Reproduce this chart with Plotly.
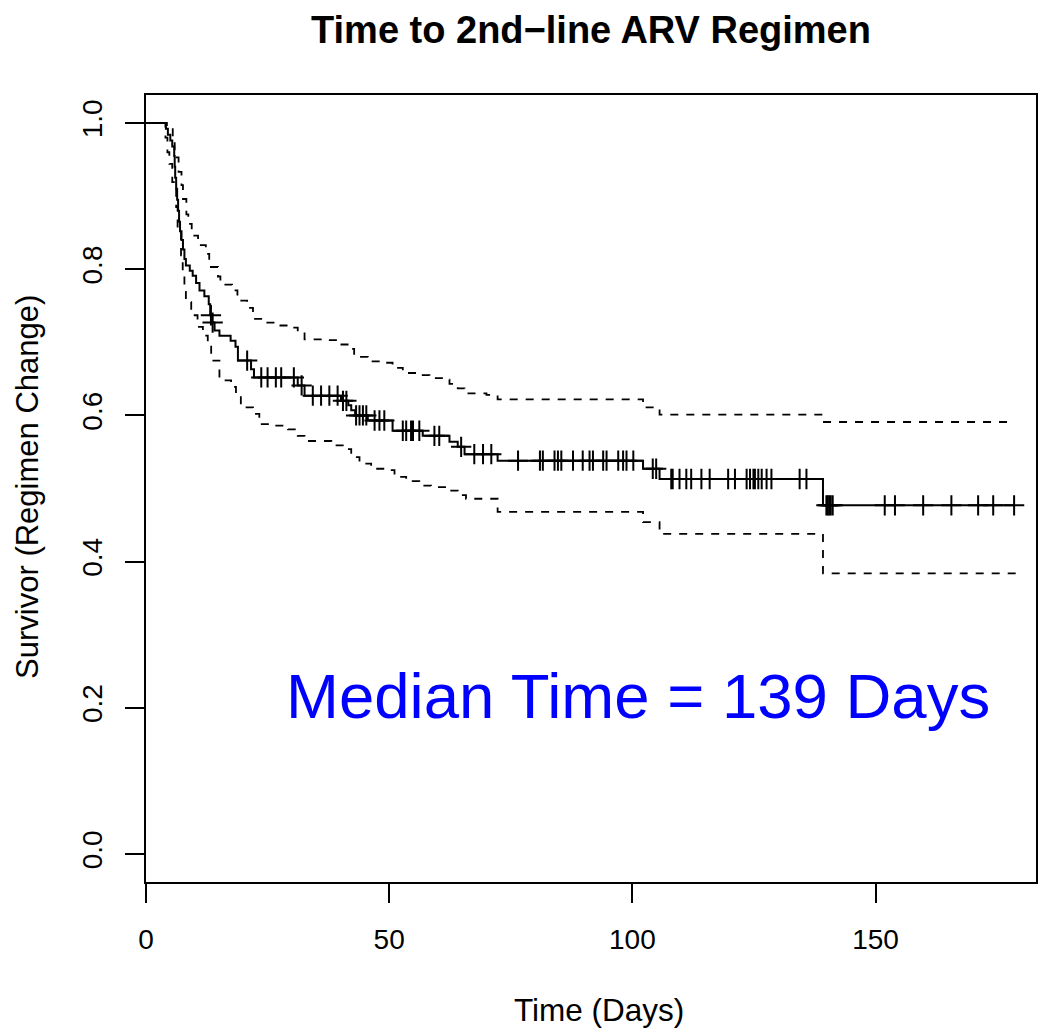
import numpy as np
import plotly.graph_objects as go

# Kaplan-Meier estimate (step points: time at which survival changes to value)
km_time = [0, 4.1, 4.5, 5.0, 5.4, 5.8, 5.9, 6.0, 6.2, 6.4, 6.6, 6.8, 7.0, 7.3, 7.6, 7.9,
           8.2, 9.0, 9.6, 10.3, 11.0, 12.0, 12.9, 13.2, 13.6, 14.1, 15.1, 17.4, 18.4, 18.9,
           21.6, 22.2, 31.2, 32.6, 40.1, 41.6, 42.2, 43.0, 45.6, 50.7, 56.9, 62.4, 64.1,
           65.5, 72.3, 102.2, 105.6, 139.2, 178.5]
km_surv = [1.0, 0.992, 0.984, 0.976, 0.968, 0.955, 0.94, 0.925, 0.91, 0.895, 0.88, 0.865,
           0.852, 0.84, 0.827, 0.814, 0.805, 0.798, 0.791, 0.781, 0.771, 0.763, 0.752, 0.737,
           0.727, 0.716, 0.709, 0.702, 0.694, 0.675, 0.663, 0.652, 0.641, 0.627, 0.620, 0.614,
           0.607, 0.600, 0.593, 0.579, 0.572, 0.564, 0.557, 0.547, 0.538, 0.527, 0.513, 0.477,
           0.477]

# Censoring times
censor_time = [13.35, 13.7, 20.8, 23.7, 25.0, 26.7, 27.8, 30.4, 32.0, 34.3, 36.0, 37.7, 39.4,
               40.5, 41.2, 43.2, 43.9, 44.6, 45.3, 47.0, 48.0, 49.0, 52.8, 53.5, 54.5, 54.9,
               56.2, 59.3, 60.3, 64.8, 67.5, 69.3, 71.0, 76.5, 81.0, 81.6, 84.0, 84.7, 85.4,
               87.8, 89.8, 91.2, 91.9, 94.0, 94.7, 97.1, 98.1, 98.8, 100.2, 104.2, 104.9,
               108.0, 108.3, 109.7, 111.1, 112.1, 114.2, 115.9, 119.7, 121.1, 123.5, 124.2,
               124.9, 125.2, 125.9, 126.6, 127.6, 128.6, 134.4, 135.8, 139.9, 140.2, 140.5,
               140.8, 141.2, 151.9, 154.0, 159.8, 165.6, 171.1, 174.2, 178.5]

# Upper 95% confidence limit
upper_time = [0, 4.3, 5.5, 5.9, 6.7, 7.3, 7.6, 8.3, 8.7, 9.4, 10.7, 12.3, 13.0, 14.8, 15.3,
              17.7, 18.8, 20.8, 22.0, 24.0, 27.0, 29.5, 31.2, 32.6, 36.3, 39.5, 41.8, 42.8,
              45.6, 48.5, 50.7, 52.8, 55.9, 58.3, 61.8, 62.4, 64.1, 65.5, 70.0, 72.3, 102.2,
              105.6, 139.2, 178.0]
upper_surv = [1.0, 0.993, 0.975, 0.953, 0.933, 0.915, 0.896, 0.875, 0.862, 0.846, 0.833,
              0.821, 0.803, 0.790, 0.779, 0.771, 0.757, 0.747, 0.732, 0.727, 0.723, 0.720,
              0.715, 0.704, 0.703, 0.697, 0.691, 0.680, 0.674, 0.672, 0.665, 0.658, 0.655,
              0.651, 0.649, 0.643, 0.637, 0.630, 0.628, 0.622, 0.611, 0.601, 0.591, 0.591]

# Lower 95% confidence limit
lower_time = [0, 4.0, 4.4, 4.8, 5.4, 6.2, 6.5, 7.2, 7.55, 7.9, 8.2, 9.3, 10.6, 11.7, 12.7,
              13.4, 15.1, 17.5, 18.5, 19.5, 22.0, 23.3, 26.1, 29.2, 31.2, 32.6, 38.1, 40.8,
              42.2, 43.9, 46.3, 49.0, 51.1, 53.5, 56.2, 58.6, 62.1, 64.1, 65.8, 72.3, 102.2,
              105.6, 139.2, 179.0]
lower_surv = [1.0, 0.98, 0.96, 0.944, 0.919, 0.885, 0.851, 0.819, 0.792, 0.769, 0.755, 0.737,
              0.721, 0.709, 0.694, 0.675, 0.648, 0.639, 0.627, 0.611, 0.602, 0.588, 0.586,
              0.581, 0.572, 0.565, 0.559, 0.554, 0.543, 0.534, 0.527, 0.525, 0.516, 0.510,
              0.504, 0.502, 0.497, 0.491, 0.486, 0.468, 0.454, 0.438, 0.384, 0.384]

x_ticks = [0, 50, 100, 150]
y_ticks = [0.0, 0.2, 0.4, 0.6, 0.8, 1.0]
y_tick_text = ["0.0", "0.2", "0.4", "0.6", "0.8", "1.0"]

title_text = "Time to 2nd\u2212line ARV Regimen"
x_title = "Time (Days)"
y_title = "Survivor (Regimen Change)"
median_text = "Median Time = 139 Days"
median_pos = (101.2, 0.216)

FONT = "Liberation Sans, Arial, Helvetica, sans-serif"

km_t = np.array(km_time)
km_s = np.array(km_surv)
idx = np.searchsorted(km_t, np.array(censor_time), side="right") - 1
censor_surv = km_s[idx]

fig = go.Figure()
fig.add_trace(go.Scatter(x=upper_time, y=upper_surv, mode="lines", line_shape="hv",
                         line=dict(color="black", width=1.8, dash="8px,8px"),
                         showlegend=False, hoverinfo="skip"))
fig.add_trace(go.Scatter(x=lower_time, y=lower_surv, mode="lines", line_shape="hv",
                         line=dict(color="black", width=1.8, dash="8px,8px"),
                         showlegend=False, hoverinfo="skip"))
fig.add_trace(go.Scatter(x=km_time, y=km_surv, mode="lines", line_shape="hv",
                         line=dict(color="black", width=2),
                         showlegend=False))
fig.add_trace(go.Scatter(x=censor_time, y=censor_surv, mode="markers",
                         marker=dict(symbol="cross-thin", size=14.5, color="black",
                                     line=dict(color="black", width=2)),
                         showlegend=False))

fig.add_annotation(x=median_pos[0], y=median_pos[1], xref="x", yref="y",
                   text=median_text, showarrow=False,
                   font=dict(family=FONT, size=63.5, color="#0000FF"),
                   xanchor="center", yanchor="middle")
fig.add_annotation(x=0.509, y=-0.1626, xref="paper", yref="paper", text=x_title,
                   showarrow=False, font=dict(family=FONT, size=31.5, color="black"),
                   xanchor="center", yanchor="middle")
fig.add_annotation(x=-0.1326, y=0.502, xref="paper", yref="paper", text=y_title,
                   showarrow=False, textangle=-90,
                   font=dict(family=FONT, size=31, color="black"),
                   xanchor="center", yanchor="middle")

fig.update_layout(
    width=1050, height=1033,
    margin=dict(l=138, r=22, t=87, b=159),
    paper_bgcolor="white", plot_bgcolor="white",
    title=dict(text="<b>" + title_text + "</b>", x=583 / 1050, xanchor="center",
               y=1 - 22 / 1033, yanchor="middle", yref="container",
               font=dict(family=FONT, size=38, color="black")),
    font=dict(family=FONT, color="black"),
)
fig.update_xaxes(range=[0, 183], tickmode="array", tickvals=x_ticks,
                 ticks="outside", ticklen=19, tickwidth=1.5, tickcolor="black",
                 showline=True, linecolor="black", linewidth=2, mirror=True,
                 showgrid=False, zeroline=False,
                 tickfont=dict(family=FONT, size=28, color="black"),
                 ticklabelstandoff=12)
fig.update_yaxes(range=[-0.0383, 1.0383], tickmode="array", tickvals=y_ticks,
                 ticktext=y_tick_text, tickangle=-90,
                 ticks="outside", ticklen=19, tickwidth=1.5, tickcolor="black",
                 showline=True, linecolor="black", linewidth=2, mirror=True,
                 showgrid=False, zeroline=False,
                 tickfont=dict(family=FONT, size=28, color="black"),
                 ticklabelstandoff=12)

fig.write_html("out.html")
